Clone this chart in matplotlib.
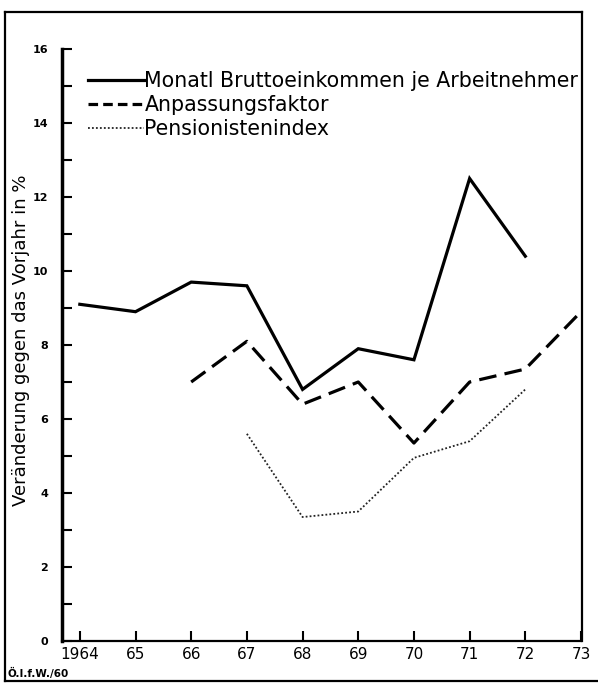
import matplotlib
matplotlib.use("Agg")
import matplotlib.pyplot as plt
from matplotlib.ticker import MultipleLocator
from matplotlib.lines import Line2D

# Data
years_income = [1964, 1965, 1966, 1967, 1968, 1969, 1970, 1971, 1972]
income = [9.1, 8.9, 9.7, 9.6, 6.8, 7.9, 7.6, 12.5, 10.4]

years_factor = [1966, 1967, 1968, 1969, 1970, 1971, 1972, 1973]
factor = [7.0, 8.1, 6.4, 7.0, 5.35, 7.0, 7.35, 8.9]

years_pension = [1967, 1968, 1969, 1970, 1971, 1972]
pension = [5.6, 3.35, 3.5, 4.95, 5.4, 6.8]

xticks = list(range(1964, 1974))
xticklabels = ["1964", "65", "66", "67", "68", "69", "70", "71", "72", "73"]
yticks = list(range(0, 17, 2))

labels = ["Monatl Bruttoeinkommen je Arbeitnehmer", "Anpassungsfaktor", "Pensionistenindex"]

W, H = 598, 683
fig = plt.figure(figsize=(W / 100, H / 100), dpi=100)
ax = fig.add_axes([62 / W, 1 - 641 / H, (581 - 62) / W, (641 - 49) / H])

lw = 2.3
ax.plot(years_income, income, color="black", lw=lw, solid_joinstyle="miter")
ax.plot(years_factor, factor, color="black", lw=lw, dashes=(5.5, 2.6))
ax.plot(years_pension, pension, color="#222222", lw=1.3, dashes=(1.0, 1.2))

ax.set_xlim(1963.68, 1973)
ax.set_ylim(0, 16)
ax.set_xticks(xticks)
ax.set_xticklabels(xticklabels, fontsize=11)
ax.set_yticks(yticks)
ax.set_yticklabels([str(v) for v in yticks], fontsize=8, fontweight="bold")
ax.yaxis.set_minor_locator(MultipleLocator(1))

ax.tick_params(axis="y", which="both", direction="in", length=7, width=1.5, pad=10)
ax.tick_params(axis="x", which="major", direction="in", length=7, width=1.5, pad=4)

for s in ["top", "right"]:
    ax.spines[s].set_visible(False)
ax.spines["left"].set_linewidth(2.5)
ax.spines["bottom"].set_linewidth(1.6)

handles = [
    Line2D([], [], color="black", lw=lw),
    Line2D([], [], color="black", lw=lw, dashes=(3.0, 1.6)),
    Line2D([], [], color="#222222", lw=1.3, dashes=(1.0, 1.2)),
]
ax.legend(handles, labels, loc="upper left", bbox_to_anchor=(0.05, 0.962),
          frameon=False, fontsize=14.8, handlelength=2.75, handletextpad=0.0,
          labelspacing=0.18, borderpad=0, borderaxespad=0)

fig.text(21 / W, 1 - 340 / H, "Veränderung gegen das Vorjahr in %", rotation=90,
         ha="center", va="center", fontsize=13)
fig.text(8 / W, 1 - 673 / H, "Ö.I.f.W./60", ha="left", va="center",
         fontsize=7.5, fontweight="bold")

# Figure frame
frame = [((5, 12), (582, 12)), ((582, 12), (582, 641)), ((5, 681), (598, 681)), ((5, 12), (5, 681))]
for (x0, y0), (x1, y1) in frame:
    fig.add_artist(Line2D([x0 / W, x1 / W], [1 - y0 / H, 1 - y1 / H],
                          transform=fig.transFigure, color="black", lw=1.6))

fig.savefig("out.png", dpi=100)
